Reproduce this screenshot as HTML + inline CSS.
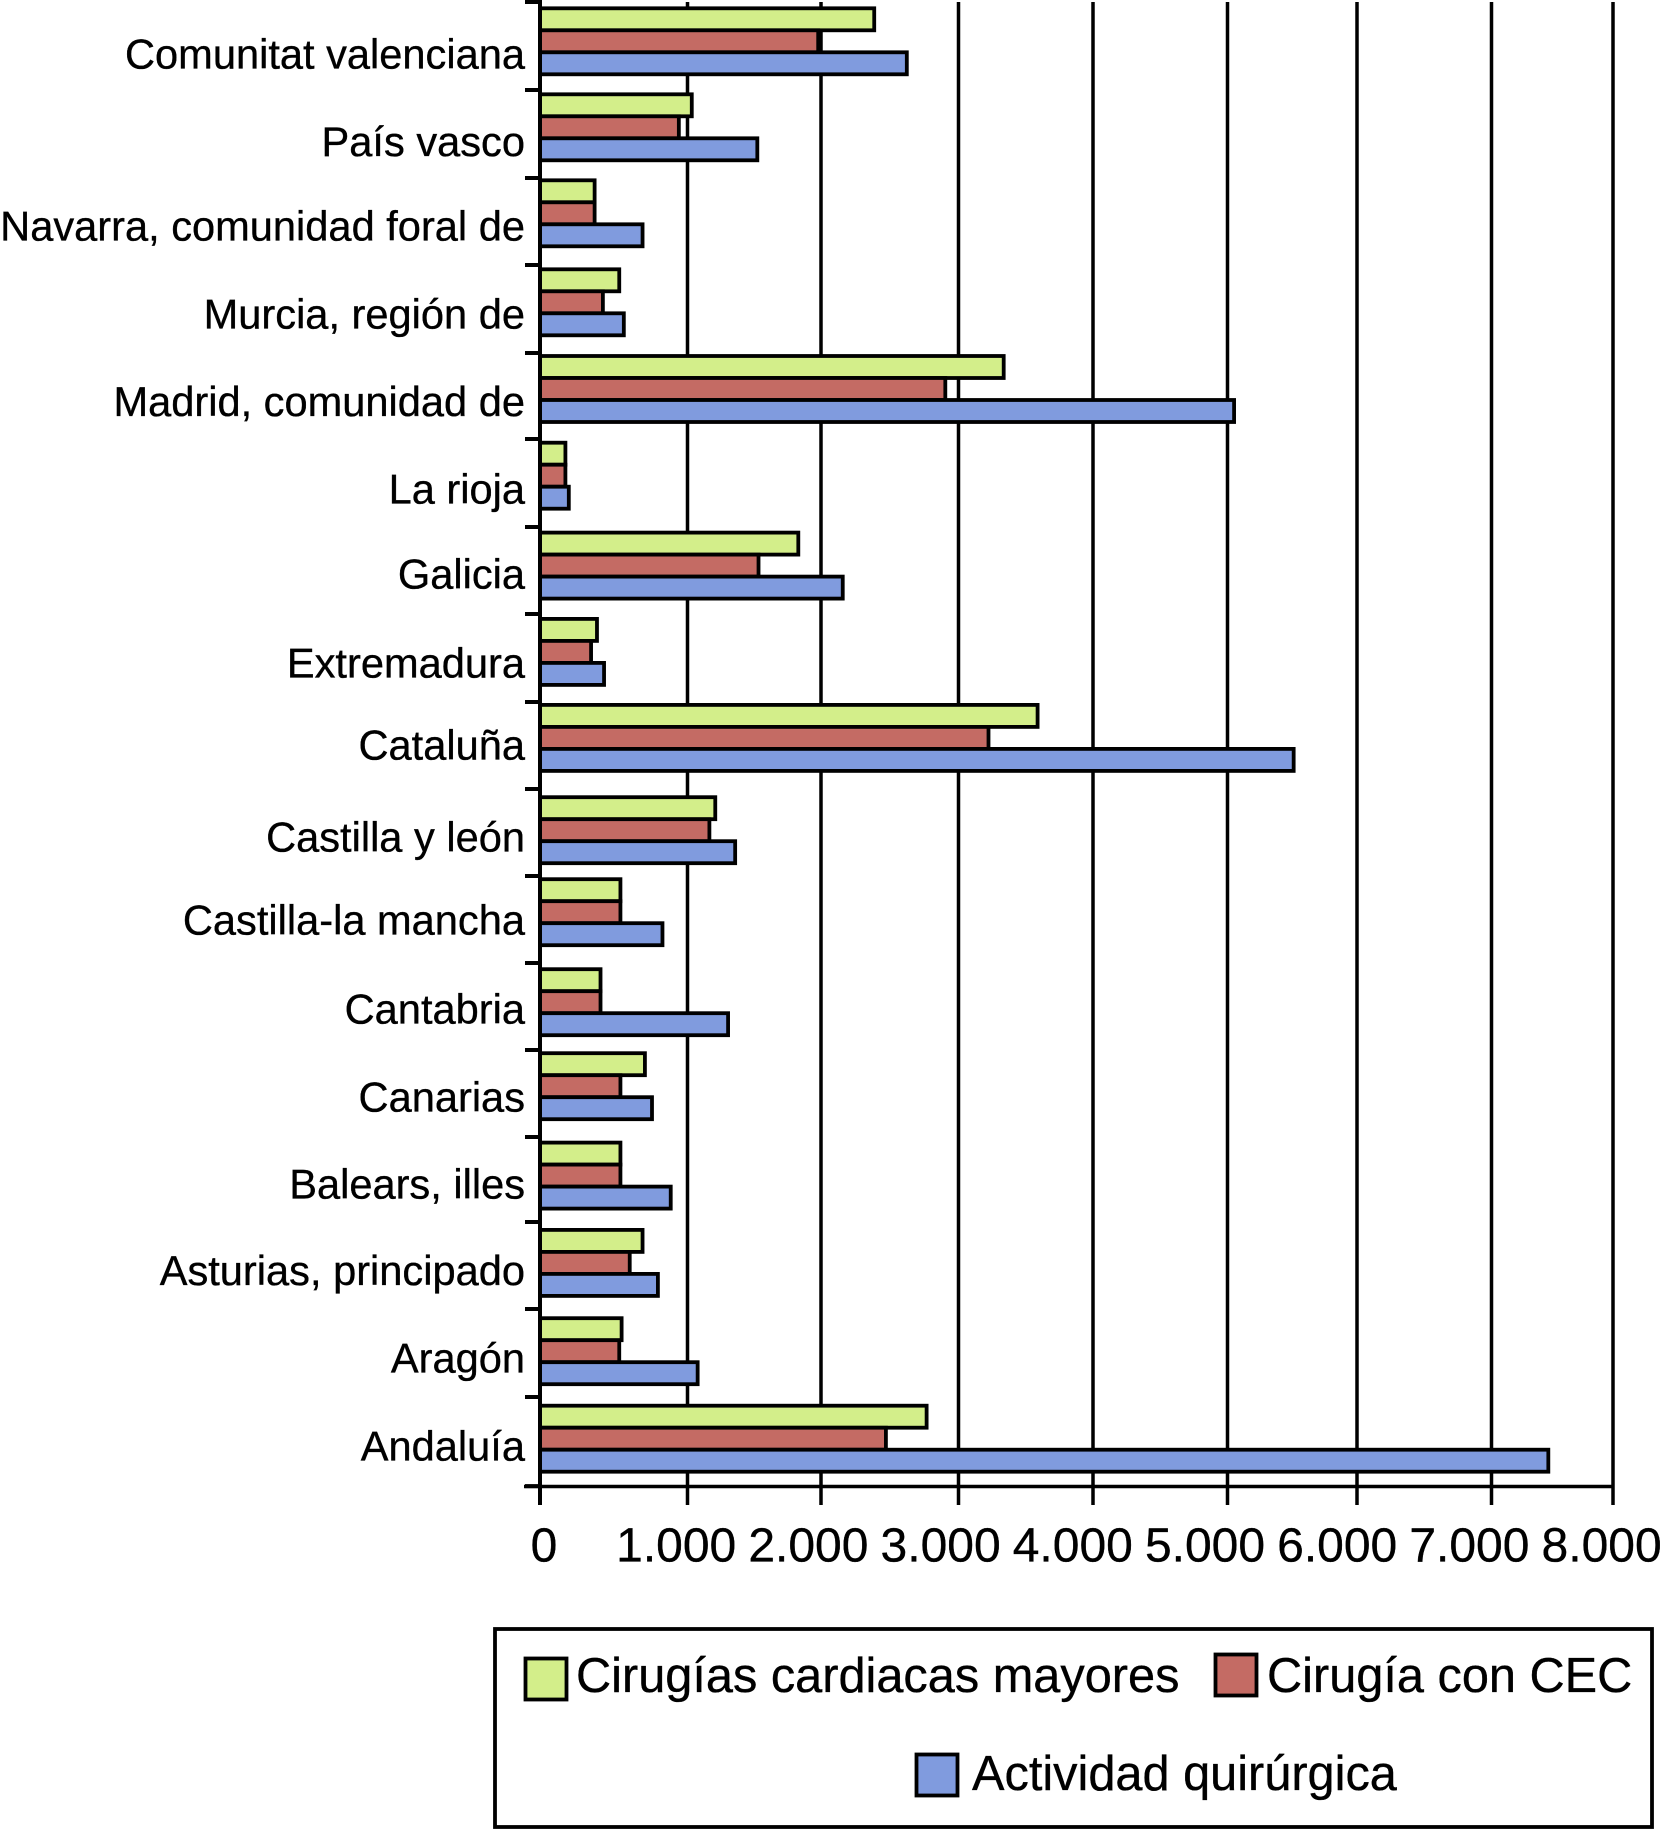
<!DOCTYPE html>
<html lang="es">
<head>
<meta charset="utf-8">
<title>Actividad quirúrgica por comunidad autónoma</title>
<style>
  html, body { margin: 0; padding: 0; background: #fff; }
  svg { display: block; }
  text { font-family: "Liberation Sans", Arial, sans-serif; fill: #000; stroke: #000; stroke-width: 0.35px; }
</style>
</head>
<body>
<svg id="chart" xmlns="http://www.w3.org/2000/svg" width="1662" height="1830" viewBox="0 0 1662 1830"></svg>
<script>
const categories = ["Comunitat valenciana", "País vasco", "Navarra, comunidad foral de", "Murcia, región de", "Madrid, comunidad de", "La rioja", "Galicia", "Extremadura", "Cataluña", "Castilla y león", "Castilla-la mancha", "Cantabria", "Canarias", "Balears, illes", "Asturias, principado", "Aragón", "Andaluía"];
const cirugiasCardiacas = [2390, 1035, 373, 540, 3339, 175, 1833, 389, 3591, 1211, 548, 413, 714, 548, 698, 556, 2771];
const cirugiaCec = [1982, 944, 373, 429, 2907, 175, 1535, 349, 3226, 1167, 548, 413, 548, 548, 611, 540, 2475];
const actividadQuirurgica = [2627, 1526, 698, 571, 5054, 198, 2161, 437, 5514, 1360, 833, 1307, 762, 889, 802, 1079, 7471];
const tickValues = [0, 1000, 2000, 3000, 4000, 5000, 6000, 7000, 8000];
const tickLabels = ["0", "1.000", "2.000", "3.000", "4.000", "5.000", "6.000", "7.000", "8.000"];
const seriesNames = ["Cirugías cardiacas mayores", "Cirugía con CEC", "Actividad quirúrgica"];

const NS = "http://www.w3.org/2000/svg";
const chart = document.getElementById("chart");
const GREEN = "#d3ee8a", RED = "#c46b64", BLUE = "#809bde";
const seriesValues = [cirugiasCardiacas, cirugiaCec, actividadQuirurgica];
const seriesColors = [GREEN, RED, BLUE];
const seriesSlugs = ["cirugias-cardiacas", "cirugia-cec", "actividad-quirurgica"];

function make(tag, attrs, parent, text) {
  const el = document.createElementNS(NS, tag);
  for (const k in attrs) el.setAttribute(k, attrs[k]);
  if (text !== undefined) el.textContent = text;
  (parent || chart).appendChild(el);
  return el;
}

// The printed axis has unevenly drawn gridlines, so the scale is calibrated per segment.
function xScale(v) {
  const calibration = [540, 687.5, 821, 958.5, 1093, 1227.5, 1357, 1491.5, 1613];
  const step = 1000;
  const k = Math.max(0, Math.min(calibration.length - 2, Math.floor(v / step)));
  return calibration[k] + (v / step - k) * (calibration[k + 1] - calibration[k]);
}
function tickLabelX(v) { return 544 + v * 0.1322; }
// Printed rows are slightly irregular: each axis function corrects a regular band by a small offset.
function tickY(i) {
  const nudge = [0, 0.7, 1.4, 1.1, 1.8, 0.5, 1.2, 0.9, 1.6, 1.3, 1, 0.7, 0.4, 0.1, -2.2, -2.5, -1.8, 0];
  return 2 + i * 87.3 + nudge[i];
}
function rowTop(i) {
  const nudge = [0, -1.4, -2.8, -1.2, -1.9, -2.6, -0.1, -1.2, -2.6, 2.3, -3.1, -0.5, -3.9, -1.9, -2, -1.1, -1];
  return 8.3 + i * 87.4 + nudge[i];
}
function labelBaseline(i) {
  const nudge = [0, 0.7, -1.6, -1, -0.3, 0, -2, 0, -5, 0.4, -4, -2, -0.6, -1, -1.3, -1, 0];
  return 68.3 + i * 87 + nudge[i];
}
const BAR_H = 22, BAR_SW = 3.8, AXIS_Y = 1486.5, TICK_END = 1505;

// Gridlines and x-axis ticks
tickValues.forEach(function (v, i) {
  const line = make("line", { x1: xScale(v), x2: xScale(v), y1: i === 0 ? 0 : 2, y2: TICK_END, stroke: "#000", "stroke-width": 3.5 });
  
  
});

// X axis line
const xAxis = make("line", { x1: 524, x2: xScale(8000), y1: AXIS_Y, y2: AXIS_Y, stroke: "#000", "stroke-width": 3.5 });



// Category ticks
for (let i = 0; i <= categories.length; i++) {
  const t = make("line", { x1: 525, x2: 540, y1: tickY(i), y2: tickY(i), stroke: "#000", "stroke-width": 4 });
  
  
}

// Bars and category labels
categories.forEach(function (name, i) {
  seriesValues.forEach(function (values, s) {
    const x0 = xScale(0);
    const bar = make("rect", { x: x0, y: rowTop(i) + s * BAR_H, width: Math.max(0, xScale(values[i]) - x0 - 0.4), height: BAR_H, fill: seriesColors[s], stroke: "#000", "stroke-width": BAR_SW });
    
    
  });
  const label = make("text", { x: 525, y: labelBaseline(i), "text-anchor": "end", "font-size": 41.6 }, chart, name);
  
  
});

// Y axis drawn above the bars' left edges
const yAxis = make("line", { x1: xScale(0), x2: xScale(0), y1: 0, y2: TICK_END, stroke: "#000", "stroke-width": 4 });



// X tick labels
tickValues.forEach(function (v, i) {
  const t = make("text", { x: tickLabelX(v), y: 1561.5, "text-anchor": "middle", "font-size": 48 }, chart, tickLabels[i]);
  
  
});

// Legend
const legendBox = make("rect", { x: 495, y: 1629, width: 1157, height: 198, fill: "#fff", stroke: "#000", "stroke-width": 3.8 });



const legendSwatchX = [525.5, 1215.5, 916.5];
const legendSwatchY = [1658.5, 1654.5, 1754.5];
const legendTextX = [576, 1267, 972];
const legendTextY = [1692, 1692, 1790];
seriesNames.forEach(function (name, s) {
  const sw = make("rect", { x: legendSwatchX[s], y: legendSwatchY[s], width: 41, height: 41, fill: seriesColors[s], stroke: "#000", "stroke-width": 3.8 });
  
  
  const tx = make("text", { x: legendTextX[s], y: legendTextY[s], "font-size": 48.7 }, chart, name);
  
  
});
</script>
</body>
</html>
